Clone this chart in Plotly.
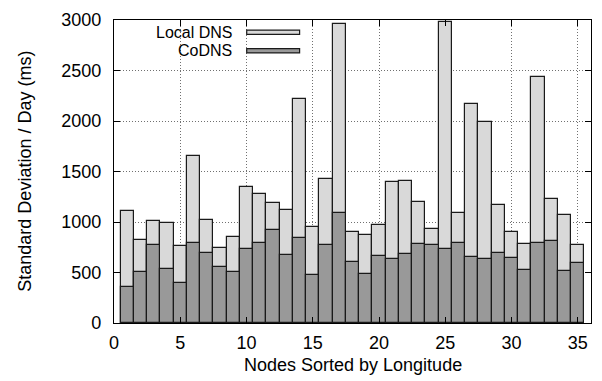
import plotly.graph_objects as go

nodes = list(range(1, 36))
local_dns = [1113, 826, 1006, 994, 765, 1658, 1019, 745, 848, 1348,
             1281, 1187, 1123, 2219, 952, 1426, 2965, 903, 874, 971,
             1394, 1410, 1197, 929, 2984, 1087, 2165, 1987, 1171, 903,
             787, 2439, 1232, 1065, 774]
codns = [361, 506, 768, 535, 400, 790, 697, 555, 503, 729,
         797, 919, 677, 839, 471, 774, 1087, 600, 484, 665,
         629, 681, 787, 777, 735, 797, 655, 632, 690, 639,
         523, 790, 813, 516, 594]
series_names = ["Local DNS", "CoDNS"]
x_ticks = [0, 5, 10, 15, 20, 25, 30, 35]
y_ticks = [0, 500, 1000, 1500, 2000, 2500, 3000]
x_title = "Nodes Sorted by Longitude"
y_title = "Standard Deviation / Day (ms)"

light = "#d9d9d9"
dark = "#999999"
font = "Liberation Sans, Arial, sans-serif"
FS = 18

fig = go.Figure()
fig.add_trace(go.Bar(x=nodes, y=local_dns, width=1, name=series_names[0],
                     marker=dict(color=light, line=dict(color="#1a1a1a", width=1.2)),
                     showlegend=False))
fig.add_trace(go.Bar(x=nodes, y=codns, width=1, name=series_names[1],
                     marker=dict(color=dark, line=dict(color="#1a1a1a", width=1.2)),
                     showlegend=False))

W, H = 602, 381
L, R, T, B = 114, 10, 13, 58
pw, ph = W - L - R, H - T - B

def px(x):
    return (x - L) / pw

def py(y):
    return (H - B - y) / ph

# manual legend
for i, (name, col) in enumerate(zip(series_names, [light, dark])):
    yc = 25.5 + i * 19
    fig.add_annotation(x=px(233), y=py(yc), xref="paper", yref="paper",
                       text=name, showarrow=False, xanchor="right", yanchor="middle",
                       borderpad=0,
                       font=dict(family=font, size=16, color="black"))
    fig.add_shape(type="rect", xref="paper", yref="paper",
                  x0=px(247), x1=px(300), y0=py(yc + 2.2), y1=py(yc - 2.2),
                  fillcolor=col, line=dict(color="#1a1a1a", width=1.2))

# axis titles
fig.add_annotation(x=0.5, y=py(366), xref="paper", yref="paper", text=x_title,
                   showarrow=False, xanchor="center", yanchor="middle",
                   font=dict(family=font, size=FS, color="black"))
fig.add_annotation(x=px(24), y=0.5, xref="paper", yref="paper", text=y_title,
                   showarrow=False, xanchor="center", yanchor="middle", textangle=-90,
                   font=dict(family=font, size=FS, color="black"))

axis_common = dict(showline=True, linecolor="black", linewidth=1.2, mirror="allticks",
                   ticks="inside", ticklen=6, tickcolor="black", tickwidth=1,
                   showgrid=True, gridcolor="#707070", griddash="1px,2px", gridwidth=1,
                   zeroline=False,
                   tickfont=dict(family=font, size=FS, color="black"))

fig.update_layout(
    width=W, height=H, autosize=False,
    margin=dict(l=L, r=R, t=T, b=B),
    paper_bgcolor="white", plot_bgcolor="white",
    barmode="overlay", bargap=0,
    font=dict(family=font, size=FS, color="black"),
    xaxis=dict(range=[0, 36], tickvals=x_ticks, ticklabelstandoff=3, **axis_common),
    yaxis=dict(range=[0, 3000], tickvals=y_ticks, ticklabelstandoff=8, **axis_common),
)

fig.write_html("out.html")
